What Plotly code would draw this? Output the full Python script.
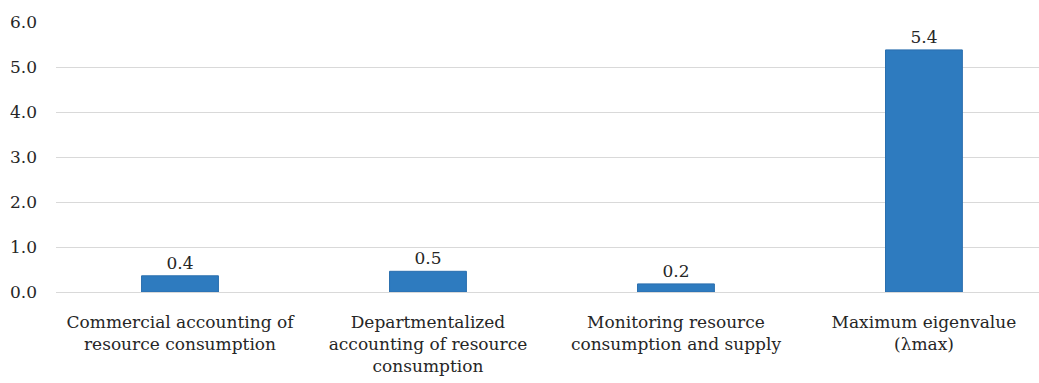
import plotly.graph_objects as go

# Criteria weights and the maximum eigenvalue of the comparison matrix
categories = [
    "Commercial accounting of<br>resource consumption",
    "Departmentalized<br>accounting of resource<br>consumption",
    "Monitoring resource<br>consumption and supply",
    "Maximum eigenvalue<br>(λmax)",
]
values = [0.36, 0.46, 0.18, 5.38]
y_ticks = [0, 1, 2, 3, 4, 5, 6]
y_tick_labels = ["0.0", "1.0", "2.0", "3.0", "4.0", "5.0", "6.0"]

serif = "DejaVu Serif"
text_col = "#262626"

fig = go.Figure(
    go.Bar(
        x=list(range(len(categories))),
        y=values,
        width=0.31,
        marker=dict(color="#2e7bbf", line=dict(color="#2a6fae", width=1)),
        texttemplate="%{y:.1f}",
        textposition="outside",
        textfont=dict(family=serif, size=17, color=text_col),
        cliponaxis=False,
    )
)

fig.update_layout(
    width=1039,
    height=383,
    margin=dict(l=56, r=0, t=22, b=91),
    paper_bgcolor="white",
    plot_bgcolor="white",
    showlegend=False,
    font=dict(family=serif, size=17, color=text_col),
    xaxis=dict(
        range=[-0.5, 3.464],
        tickmode="array",
        tickvals=list(range(len(categories))),
        ticktext=categories,
        showgrid=False,
        showline=False,
        zeroline=False,
        ticks="",
        ticklabelstandoff=18,
        tickfont=dict(family=serif, size=17, color=text_col),
    ),
    yaxis=dict(
        range=[0, 6],
        tickmode="array",
        tickvals=y_ticks,
        ticktext=y_tick_labels,
        showgrid=True,
        gridcolor="#d9d9d9",
        gridwidth=1,
        zeroline=True,
        zerolinecolor="#d9d9d9",
        zerolinewidth=1,
        showline=False,
        ticks="",
        ticklabelstandoff=18,
        tickfont=dict(family=serif, size=17, color=text_col),
    ),
)

fig.write_html("out.html")
